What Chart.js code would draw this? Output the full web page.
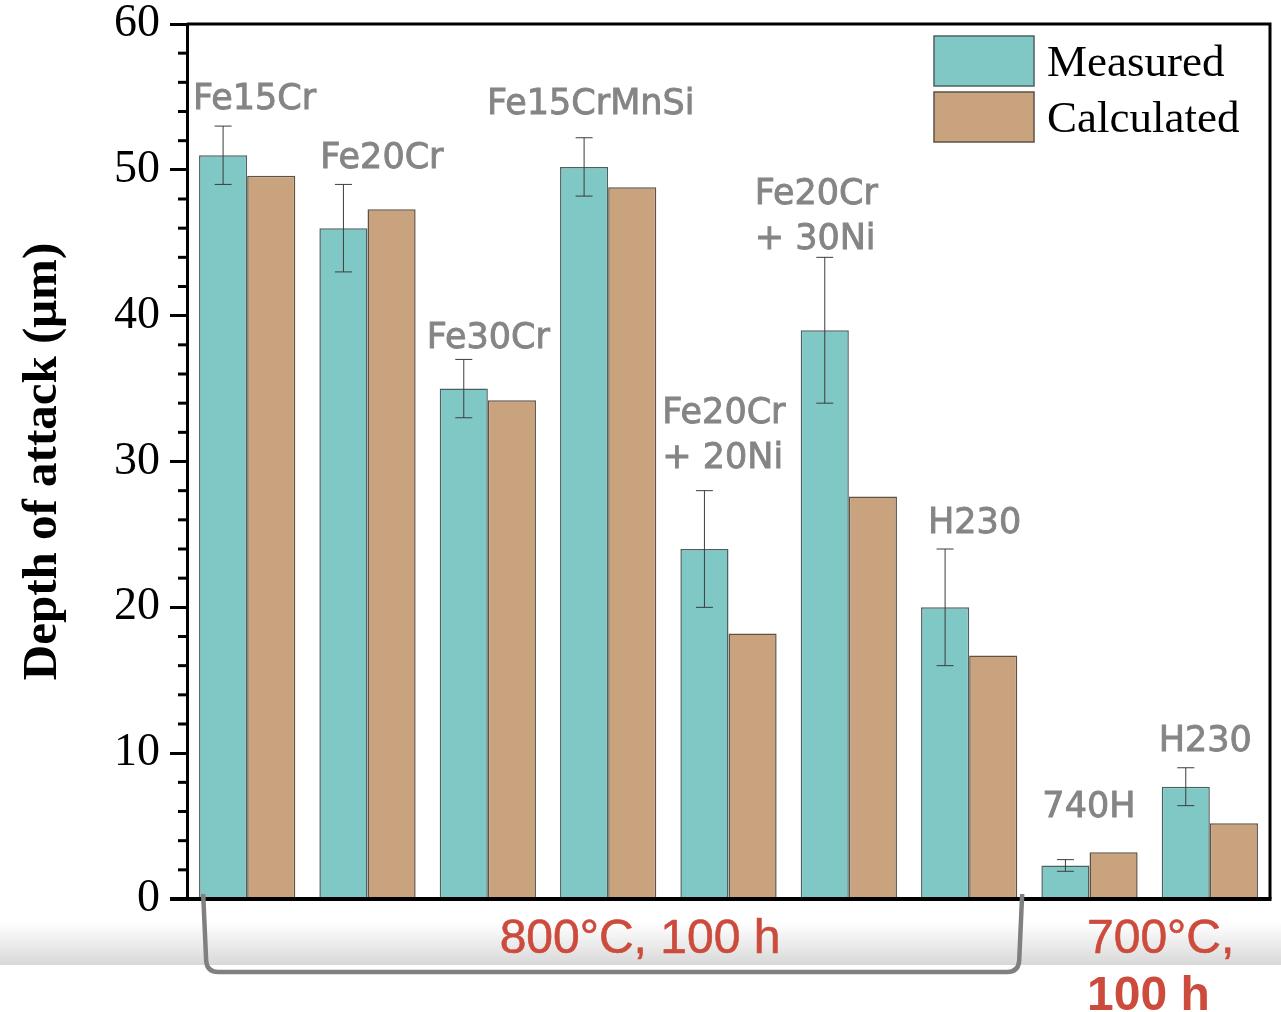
<!DOCTYPE html>
<html>
<head>
<meta charset="utf-8">
<title>Depth of attack</title>
<script src="https://cdn.jsdelivr.net/npm/chart.js@4.4.1/dist/chart.umd.min.js"></script>
<style>
  html, body { margin: 0; padding: 0; background: #fff; }
  canvas { display: block; }
</style>
</head>
<body>
<canvas id="chart" width="1281" height="1012"></canvas>
<script>
// data
const alloys = ["Fe15Cr", "Fe20Cr", "Fe30Cr", "Fe15CrMnSi", "Fe20Cr\n+ 20Ni", "Fe20Cr\n+ 30Ni", "H230", "740H", "H230"];
const measured = [51, 46, 35, 50.2, 24, 39, 20, 2.3, 7.7];
const measuredErr = [2, 3, 2, 2, 4, 5, 4, 0.4, 1.3];
const calculated = [49.6, 47.3, 34.2, 48.8, 18.2, 27.6, 16.7, 3.2, 5.2];
const yTicks = [0, 10, 20, 30, 40, 50, 60];
const conditions = ["800°C, 100 h", "700°C,", "100 h"];

// label placement: x from group left edge, gap from highest mark to baseline
const labelDx = [-6, 1, -13, -73, -18, -46, 7, 1, -3];
const labelGap = [17, 16, 11, 24, 23, 8, 16, 35, 17];

const serif = "'Liberation Serif', 'Times New Roman', serif";
const red = "#cc4b3c";

const decor = {
  id: "decor",
  beforeDraw(chart) {
    // faint grey band behind the condition labels
    const ctx = chart.ctx;
    const g = ctx.createLinearGradient(0, 922, 0, 965);
    g.addColorStop(0, "rgba(218,218,218,0)");
    g.addColorStop(1, "rgba(216,216,216,1)");
    ctx.save();
    ctx.fillStyle = g;
    ctx.fillRect(0, 922, chart.width, 43);
    ctx.restore();
  },
  afterDatasetsDraw(chart) {
    const { ctx, scales: { y } } = chart;
    const bars = chart.getDatasetMeta(0).data;
    ctx.save();
    ctx.strokeStyle = "#3c3c3c";
    ctx.lineWidth = 1;
    bars.forEach((bar, i) => {
      const hi = y.getPixelForValue(measured[i] + measuredErr[i]);
      const lo = y.getPixelForValue(measured[i] - measuredErr[i]);
      ctx.beginPath();
      ctx.moveTo(bar.x, hi); ctx.lineTo(bar.x, lo);
      ctx.moveTo(bar.x - 8.5, hi); ctx.lineTo(bar.x + 8.5, hi);
      ctx.moveTo(bar.x - 8.5, lo); ctx.lineTo(bar.x + 8.5, lo);
      ctx.stroke();
    });
    ctx.restore();
  },
  afterDraw(chart) {
    const { ctx, chartArea: a, scales: { x, y } } = chart;
    ctx.save();

    // frame
    ctx.strokeStyle = "#000";
    ctx.lineWidth = 3;
    ctx.beginPath();
    ctx.moveTo(a.left, a.top); ctx.lineTo(a.right, a.top); ctx.lineTo(a.right, a.bottom);
    ctx.stroke();
    ctx.lineWidth = 4;
    ctx.beginPath();
    ctx.moveTo(a.left - 17, a.bottom); ctx.lineTo(a.right + 1.5, a.bottom);
    ctx.stroke();

    // minor ticks
    ctx.lineWidth = 3;
    for (let v = 0; v <= 60; v += 2) {
      if (v % 10 === 0) continue;
      const py = y.getPixelForValue(v);
      ctx.beginPath();
      ctx.moveTo(a.left - 9, py); ctx.lineTo(a.left, py);
      ctx.stroke();
    }

    // alloy labels (thin stroke gives the medium weight of the original)
    const m = chart.getDatasetMeta(0).data;
    ctx.fillStyle = "#858585";
    ctx.strokeStyle = "#858585";
    ctx.lineWidth = 0.9;
    ctx.font = "35px 'DejaVu Sans', sans-serif";
    ctx.textAlign = "left";
    ctx.textBaseline = "alphabetic";
    alloys.forEach((name, i) => {
      const left = m[i].x - m[i].width / 2;
      const top = Math.min(y.getPixelForValue(measured[i] + measuredErr[i]), y.getPixelForValue(calculated[i]));
      const lines = name.split("\n");
      const base = top - labelGap[i];
      lines.forEach((ln, k) => {
        const ty = base - (lines.length - 1 - k) * 45;
        ctx.fillText(ln, left + labelDx[i], ty);
        ctx.strokeText(ln, left + labelDx[i], ty);
      });
    });

    // legend
    chart.data.datasets.forEach((ds, i) => {
      const by = 36 + i * 56;
      ctx.fillStyle = ds.backgroundColor;
      ctx.fillRect(934, by, 100, 50);
      ctx.strokeStyle = ds.borderColor;
      ctx.lineWidth = 1.5;
      ctx.strokeRect(934, by, 100, 50);
      ctx.fillStyle = "#000";
      ctx.font = "45px " + serif;
      ctx.textBaseline = "alphabetic";
      ctx.fillText(ds.label, 1047, by + 40);
    });

    // bracket under the 800 °C group
    const bl = x.getPixelForValue(0) - 44;
    const br = x.getPixelForValue(6) + 53;
    ctx.strokeStyle = "#808080";
    ctx.lineWidth = 4.5;
    ctx.lineJoin = "round";
    ctx.beginPath();
    ctx.moveTo(bl, 894);
    ctx.lineTo(bl + 3, 961);
    ctx.quadraticCurveTo(bl + 4, 972, bl + 15, 972);
    ctx.lineTo(br - 15, 972);
    ctx.quadraticCurveTo(br - 4, 972, br - 3, 961);
    ctx.lineTo(br, 894);
    ctx.stroke();

    // test conditions
    ctx.fillStyle = red;
    ctx.strokeStyle = red;
    ctx.lineWidth = 0.6;
    ctx.font = "48px 'Liberation Sans', Arial, sans-serif";
    ctx.textAlign = "center";
    ctx.fillText(conditions[0], 640, 953);
    ctx.strokeText(conditions[0], 640, 953);
    ctx.textAlign = "left";
    ctx.fillText(conditions[1], 1087, 953);
    ctx.strokeText(conditions[1], 1087, 953);
    ctx.font = "bold 48px 'Liberation Sans', Arial, sans-serif";
    ctx.fillText(conditions[2], 1087, 1010);

    ctx.restore();
  }
};

new Chart(document.getElementById("chart"), {
  type: "bar",
  data: {
    labels: alloys,
    datasets: [
      { label: "Measured", data: measured, backgroundColor: "#80c8c5", borderColor: "#4e605e", borderWidth: 1.5 },
      { label: "Calculated", data: calculated, backgroundColor: "#c9a37e", borderColor: "#5e5245", borderWidth: 1.5 }
    ]
  },
  options: {
    responsive: false,
    animation: false,
    layout: { padding: { top: 24, right: 11, bottom: 113, left: 0 } },
    datasets: { bar: { categoryPercentage: 0.8, barPercentage: 1 } },
    plugins: { legend: { display: false }, tooltip: { enabled: false } },
    scales: {
      x: { display: false },
      y: {
        min: 0,
        max: 60,
        afterBuildTicks: s => { s.ticks = yTicks.map(v => ({ value: v })); },
        afterFit: s => { s.width = 187; s.paddingTop = 0; s.paddingBottom = 0; },
        ticks: { color: "#000", padding: 10, font: { family: serif, size: 46 } },
        grid: { drawOnChartArea: false, tickLength: 17, tickWidth: 3, tickColor: "#000" },
        border: { color: "#000", width: 3 },
        title: {
          display: true,
          text: "Depth of attack (μm)",
          color: "#000",
          padding: { top: 14, bottom: 0 },
          font: { family: serif, size: 49, weight: "bold" }
        }
      }
    }
  },
  plugins: [decor]
});
</script>
</body>
</html>
